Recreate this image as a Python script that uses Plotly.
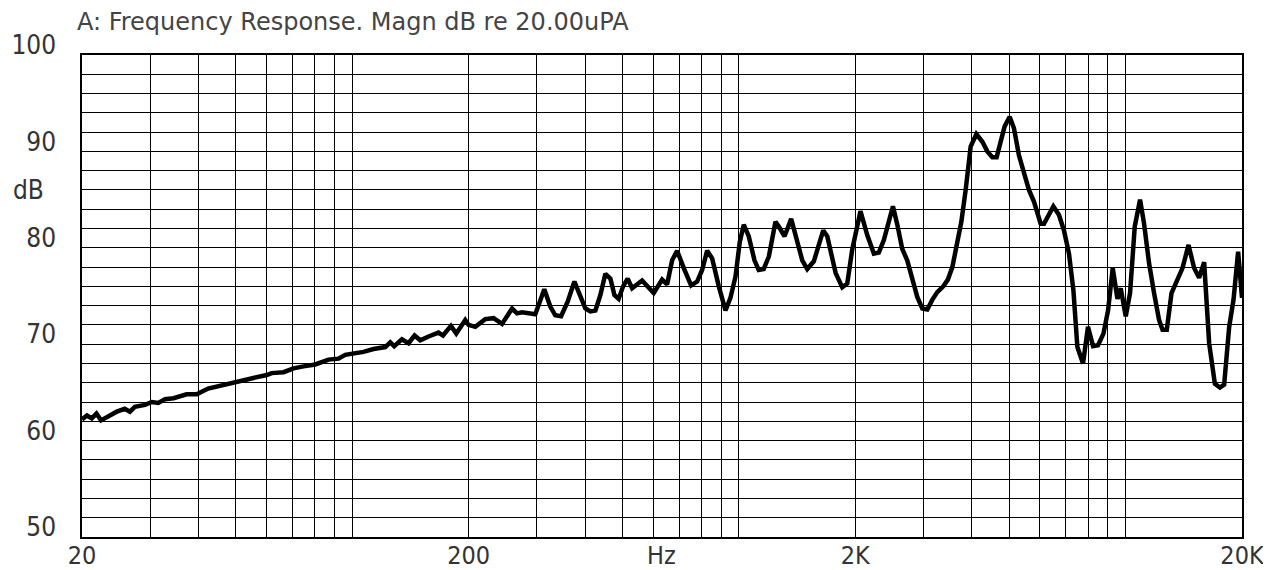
import plotly.graph_objects as go

# Frequency response readings (Hz, dB re 20 uPa)
freq_hz = [
    20.0, 20.6, 21.2, 21.8, 22.4, 23.4, 24.6, 25.8, 26.6, 27.4,
    29.1, 30.3, 31.5, 32.8, 34.5, 37.3, 39.6, 42.4, 46.4, 50.3,
    55.5, 60.1, 61.9, 66.4, 70.5, 74.8, 80.2, 86.8, 92.1, 95.9,
    99.8, 103.8, 106.9, 113.5, 121.7, 125.4, 128.4, 134.4, 139.8, 144.9,
    149.9, 157.5, 167.1, 171.6, 180.0, 185.8, 196.0, 199.9, 208.0, 220.8,
    232.0, 244.0, 259.0, 266.8, 274.8, 297.4, 313.8, 325.2, 335.0, 346.8,
    360.6, 375.4, 389.0, 400.8, 412.8, 425.4, 438.2, 451.4, 465.2, 476.4,
    488.6, 501.6, 515.6, 529.4, 561.8, 602.0, 632.8, 652.0, 671.8, 692.0,
    720.0, 752.2, 779.6, 803.2, 827.6, 852.6, 887.0, 923.0, 950.6, 979.6,
    1005, 1029, 1060, 1097, 1125, 1159, 1195, 1243, 1268, 1312,
    1365, 1401, 1458, 1502, 1562, 1652, 1692, 1778, 1850, 1906,
    1963, 2062, 2148, 2233, 2300, 2370, 2428, 2502, 2568, 2644,
    2724, 2808, 2892, 2980, 3070, 3162, 3258, 3376, 3470, 3564,
    3656, 3760, 3858, 3974, 4112, 4262, 4390, 4522, 4640, 4752,
    4866, 5014, 5144, 5298, 5458, 5624, 5794, 6030, 6150, 6336,
    6504, 6726, 6928, 7138, 7328, 7504, 7760, 7994, 8238, 8486,
    8764, 9008, 9262, 9526, 9714, 10008, 10268, 10560, 10898, 11162,
    11500, 11848, 12208, 12458, 12780, 13144, 13620, 14034, 14544, 15038,
    15494, 15964, 16446, 17016, 17530, 17984, 18530, 19012, 19544, 20000,
]
magn_db = [
    62.2, 62.6, 62.3, 62.8, 62.1, 62.5, 63.0, 63.3, 63.0, 63.5,
    63.7, 64.0, 63.9, 64.3, 64.4, 64.8, 64.8, 65.4, 65.8, 66.1,
    66.5, 66.8, 67.0, 67.1, 67.5, 67.7, 67.9, 68.4, 68.5, 68.9,
    69.0, 69.2, 69.2, 69.5, 69.7, 70.2, 69.8, 70.5, 70.1, 70.9,
    70.4, 70.8, 71.2, 70.9, 71.9, 71.1, 72.5, 72.0, 71.8, 72.6,
    72.7, 72.1, 73.7, 73.2, 73.3, 73.1, 75.7, 73.9, 73.0, 72.9,
    74.4, 76.5, 75.1, 73.7, 73.4, 73.5, 75.1, 77.3, 76.8, 75.1,
    74.7, 76.0, 76.8, 75.8, 76.6, 75.3, 76.7, 76.2, 78.7, 79.7,
    77.9, 76.1, 76.5, 77.7, 79.7, 78.9, 76.0, 73.5, 74.8, 77.0,
    80.6, 82.4, 81.2, 78.7, 77.7, 77.8, 79.1, 82.7, 82.2, 81.2,
    83.0, 81.2, 78.7, 77.8, 78.6, 81.8, 81.2, 77.4, 75.9, 76.3,
    79.8, 83.8, 81.3, 79.4, 79.5, 80.8, 82.5, 84.3, 82.4, 79.9,
    78.7, 76.8, 74.9, 73.7, 73.6, 74.6, 75.4, 76.0, 76.7, 78.0,
    80.1, 82.7, 86.0, 90.5, 91.8, 91.0, 90.0, 89.4, 89.4, 90.8,
    92.6, 93.6, 92.4, 89.6, 87.9, 86.0, 84.8, 82.5, 82.5, 83.4,
    84.3, 83.4, 81.8, 79.4, 75.6, 69.7, 68.0, 71.8, 69.8, 69.9,
    71.1, 73.5, 77.9, 74.7, 75.8, 72.9, 75.3, 82.2, 85.0, 82.5,
    78.4, 75.3, 72.5, 71.5, 71.5, 75.3, 76.7, 77.9, 80.3, 77.9,
    76.9, 78.5, 70.1, 65.9, 65.5, 65.8, 71.8, 74.6, 79.6, 74.8,
]

# Axis tick values / labels
x_label_vals = [20, 200, 630, 2000, 20000]
x_label_text = ["20", "200", "Hz", "2K", "20K"]
x_grid_vals = [30, 40, 50, 60, 70, 80, 90, 100,
               200, 300, 400, 500, 600, 700, 800, 900, 1000,
               2000, 3000, 4000, 5000, 6000, 7000, 8000, 9000, 10000]
y_label_vals = [50, 60, 70, 80, 90, 100]
y_label_text = ["50", "60", "70", "80", "90", "100"]

title_text = "A: Frequency Response. Magn dB re 20.00uPA"
y_unit = "dB"

tick_font = dict(family="Liberation Sans Narrow, DejaVu Sans Condensed, sans-serif",
                 size=26, color="#333333")
x_tick_font = dict(family="Liberation Sans Narrow, DejaVu Sans Condensed, sans-serif",
                   size=25, color="#333333")

fig = go.Figure()
fig.add_trace(go.Scatter(
    x=freq_hz, y=magn_db, mode="lines",
    line=dict(color="black", width=4.5),
    showlegend=False, hoverinfo="x+y",
))

fig.update_layout(
    width=1263, height=562,
    margin=dict(l=74, r=29, t=47, b=33),
    paper_bgcolor="white", plot_bgcolor="white",
    title=dict(text=title_text, xref="container", yref="container",
               x=0.0546, xanchor="left", y=0.975, yanchor="middle",
               font=dict(family="DejaVu Sans, sans-serif", size=24, color="#444444")),
    xaxis=dict(
        type="log", range=[1.30103, 4.30103], automargin=False,
        tickmode="array", tickvals=x_label_vals, ticktext=x_label_text,
        showgrid=False, ticks="", tickfont=x_tick_font, ticklabelstandoff=-5,
        showline=True, mirror=True, linecolor="black", linewidth=1.5,
        zeroline=False,
        minor=dict(tickmode="array", tickvals=x_grid_vals, showgrid=True,
                   gridcolor="black", gridwidth=1.2, ticks=""),
    ),
    yaxis=dict(
        range=[50, 100], automargin=False,
        tickmode="array", tickvals=y_label_vals, ticktext=y_label_text,
        showgrid=True, gridcolor="black", gridwidth=1.2, ticks="",
        tickfont=tick_font, ticklabelshift=-10, ticklabelstandoff=19,
        showline=True, mirror=True, linecolor="black", linewidth=1.5,
        zeroline=False,
        minor=dict(dtick=2, tick0=50, showgrid=True, gridcolor="black",
                   gridwidth=1.2, ticks=""),
    ),
    annotations=[dict(text=y_unit, xref="paper", yref="y", x=-0.061, y=86,
                      xanchor="left", yanchor="middle", showarrow=False,
                      font=tick_font)],
)

fig.write_html("out.html")
